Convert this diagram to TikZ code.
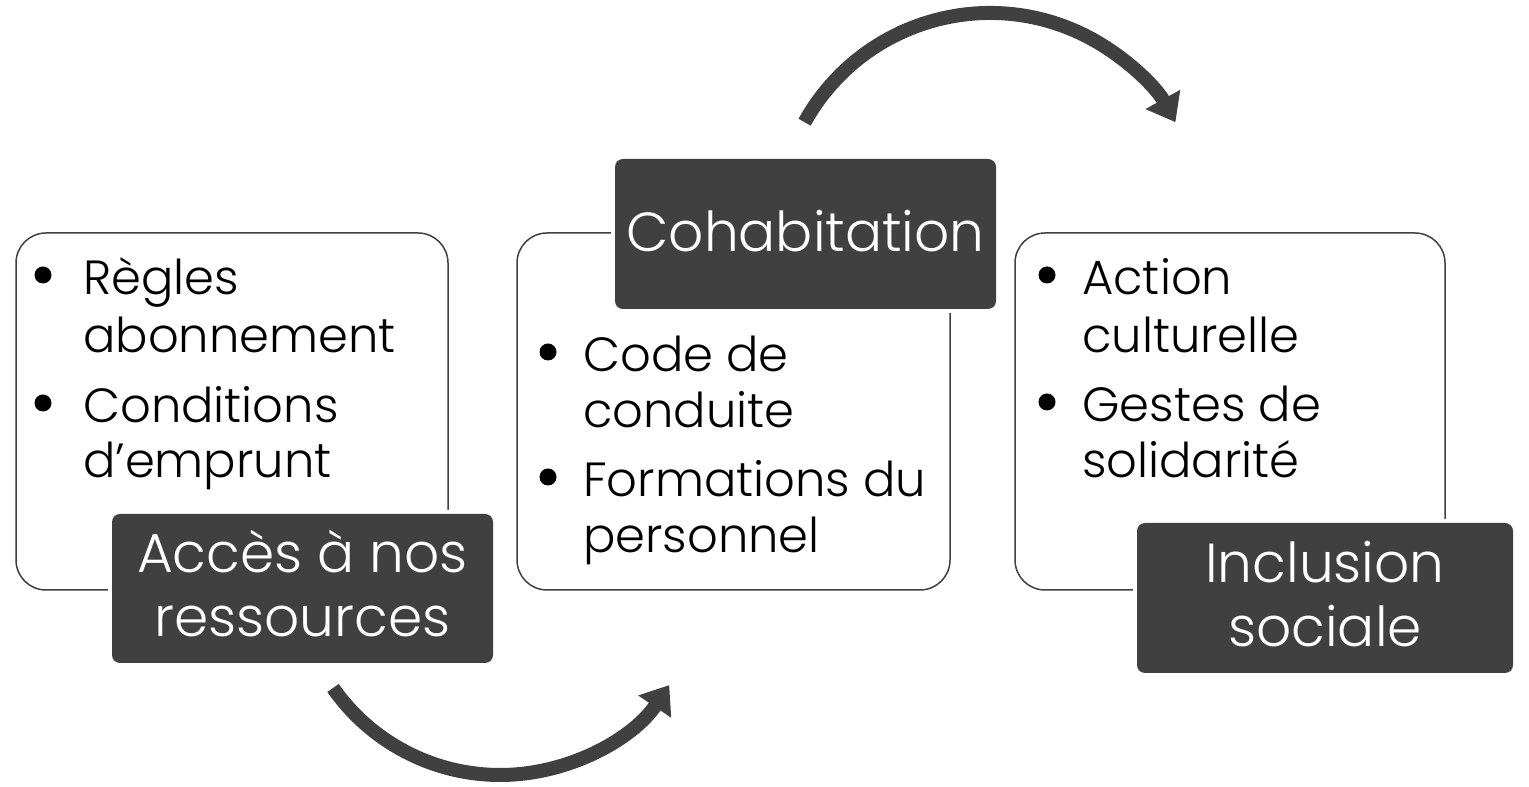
\documentclass[tikz,border=0pt]{standalone}
\usepackage{fontspec}
\setmainfont{Poppins}[UprightFont=* Light]
\usetikzlibrary{arrows.meta}
\definecolor{dk}{HTML}{404040}
\tikzset{
 panel/.style={draw=dk, line width=1.5pt, rounded corners=30pt, fill=white, inner sep=0},
 tag/.style={fill=dk, rounded corners=8pt, inner sep=0},
 halo/.style={fill=white, rounded corners=11pt, inner sep=0},
 item/.style={anchor=base west, inner sep=0, font=\fontsize{48}{58}\selectfont},
 tagtext/.style={anchor=base, inner sep=0, text=white, font=\fontsize{55}{64}\selectfont},
 dot/.style={circle, fill=black, inner sep=0, minimum size=17pt},
 flow/.style={draw=dk, line width=14pt, -{Triangle[width=38pt,length=26pt]}}
}
\begin{document}
\begin{tikzpicture}[x=1pt,y=1pt]
\useasboundingbox (0,0) rectangle (1529,787);
% panels
\node[panel, minimum width=432pt, minimum height=357pt] (p1) at (232,375.5) {};
\node[panel, minimum width=433pt, minimum height=357pt] (p2) at (733.5,375.5) {};
\node[panel, minimum width=430pt, minimum height=357pt] (p3) at (1230,375.5) {};
% halos and tags
\node[halo, minimum width=389pt, minimum height=157pt] (h1) at (302.5,198.5) {};
\node[tag, minimum width=381pt, minimum height=149pt] (t1) at (302.5,198.5) {};
\node[halo, minimum width=389pt, minimum height=158pt] (h2) at (805.5,553) {};
\node[tag, minimum width=381pt, minimum height=150pt] (t2) at (805.5,553) {};
\node[halo, minimum width=384pt, minimum height=158pt] (h3) at (1325,189) {};
\node[tag, minimum width=376pt, minimum height=150pt] (t3) at (1325,189) {};
% tag texts
\node[tagtext] (t1a) at (302.5,214) {Accès à nos};
\node[tagtext] (t1b) at (302.5,150) {ressources};
\node[tagtext] (t2a) at (805.5,535) {Cohabitation};
\node[tagtext] (t3a) at (1325,204) {Inclusion};
\node[tagtext] (t3b) at (1325,140) {sociale};
% panel 1 items
\node[dot] (d11) at (43,512) {};
\node[item] (i11) at (83,492) {Règles};
\node[item] (i12) at (83,434) {abonnement};
\node[dot] (d12) at (43,384) {};
\node[item] (i13) at (83,364) {Conditions};
\node[item] (i14) at (83,309) {d’emprunt};
% panel 2 items
\node[dot] (d21) at (548,435) {};
\node[item] (i21) at (583,415) {Code de};
\node[item] (i22) at (583,359) {conduite};
\node[dot] (d22) at (548,310) {};
\node[item] (i23) at (583,290) {Formations du};
\node[item] (i24) at (583,234) {personnel};
% panel 3 items
\node[dot] (d31) at (1047,512) {};
\node[item] (i31) at (1082,492) {Action};
\node[item] (i32) at (1082,434) {culturelle};
\node[dot] (d32) at (1047,385) {};
\node[item] (i33) at (1082,365) {Gestes de};
\node[item] (i34) at (1082,309) {solidarité};
% arrows
\coordinate (b0) at (333,99);
\draw[flow] (b0) arc[start angle=215, end angle=326, radius=204];
\coordinate (a0) at (804.6,664.8);
\draw[flow] (a0) arc[start angle=151, end angle=29, radius=212];
\end{tikzpicture}
\end{document}
